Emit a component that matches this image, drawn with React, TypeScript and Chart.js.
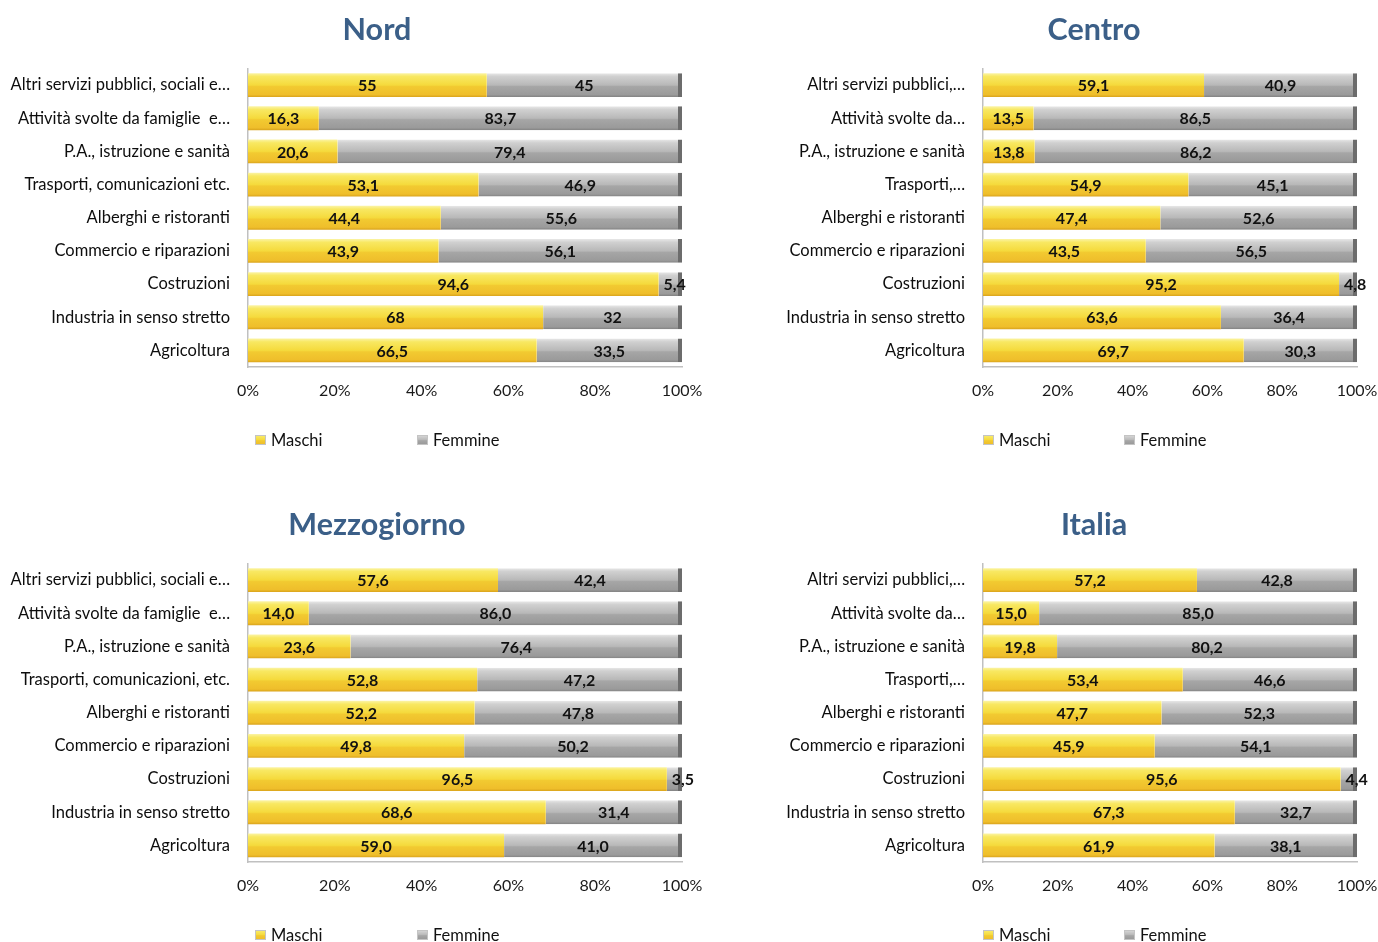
import React, { useEffect, useRef } from 'react';
import { Chart, registerables } from 'chart.js';

Chart.register(...registerables);

const FONT = 'Lato, "Noto Sans", sans-serif';

// ---------- data ----------
const seriesNames = ['Maschi', 'Femmine'];
const xTickLabels = ['0%', '20%', '40%', '60%', '80%', '100%'];

const titleNord = 'Nord';
const labelsNord = [
  'Altri servizi pubblici, sociali e…',
  'Attività svolte da famiglie  e…',
  'P.A., istruzione e sanità',
  'Trasporti, comunicazioni etc.',
  'Alberghi e ristoranti',
  'Commercio e riparazioni',
  'Costruzioni',
  'Industria in senso stretto',
  'Agricoltura',
];
const maschiNord = [55, 16.3, 20.6, 53.1, 44.4, 43.9, 94.6, 68, 66.5];
const femmineNord = [45, 83.7, 79.4, 46.9, 55.6, 56.1, 5.4, 32, 33.5];

const titleCentro = 'Centro';
const labelsCentro = [
  'Altri servizi pubblici,…',
  'Attività svolte da…',
  'P.A., istruzione e sanità',
  'Trasporti,…',
  'Alberghi e ristoranti',
  'Commercio e riparazioni',
  'Costruzioni',
  'Industria in senso stretto',
  'Agricoltura',
];
const maschiCentro = [59.1, 13.5, 13.8, 54.9, 47.4, 43.5, 95.2, 63.6, 69.7];
const femmineCentro = [40.9, 86.5, 86.2, 45.1, 52.6, 56.5, 4.8, 36.4, 30.3];

const titleMezzogiorno = 'Mezzogiorno';
const labelsMezzogiorno = [
  'Altri servizi pubblici, sociali e…',
  'Attività svolte da famiglie  e…',
  'P.A., istruzione e sanità',
  'Trasporti, comunicazioni, etc.',
  'Alberghi e ristoranti',
  'Commercio e riparazioni',
  'Costruzioni',
  'Industria in senso stretto',
  'Agricoltura',
];
const maschiMezzogiorno = [57.6, 14.0, 23.6, 52.8, 52.2, 49.8, 96.5, 68.6, 59.0];
const femmineMezzogiorno = [42.4, 86.0, 76.4, 47.2, 47.8, 50.2, 3.5, 31.4, 41.0];

const titleItalia = 'Italia';
const labelsItalia = [
  'Altri servizi pubblici,…',
  'Attività svolte da…',
  'P.A., istruzione e sanità',
  'Trasporti,…',
  'Alberghi e ristoranti',
  'Commercio e riparazioni',
  'Costruzioni',
  'Industria in senso stretto',
  'Agricoltura',
];
const maschiItalia = [57.2, 15.0, 19.8, 53.4, 47.7, 45.9, 95.6, 67.3, 61.9];
const femmineItalia = [42.8, 85.0, 80.2, 46.6, 52.3, 54.1, 4.4, 32.7, 38.1];

// ---------- styling ----------
const BAR_PCT = 0.72;
const yellowStops: [number, string][] = [
  [0, '#fbf4a6'],
  [0.14, '#f8e862'],
  [0.5, '#f5da3c'],
  [0.56, '#f2ca31'],
  [0.9, '#efbe2b'],
  [1, '#d9a31c'],
];
const grayStops: [number, string][] = [
  [0, '#e8e8e8'],
  [0.14, '#d0d0d0'],
  [0.5, '#b8b8b8'],
  [0.56, '#a6a6a6'],
  [0.9, '#9a9a9a'],
  [1, '#828282'],
];
const seriesStops = [yellowStops, grayStops];
const seriesFallback = ['#f3cf34', '#b0b0b0'];

function makeGradient(ctx: CanvasRenderingContext2D, y0: number, y1: number, stops: [number, string][]) {
  const g = ctx.createLinearGradient(0, y0, 0, y1);
  stops.forEach(([o, c]) => g.addColorStop(o, c));
  return g;
}

function fmt(v: number, fixed: boolean) {
  return (fixed ? v.toFixed(1) : String(v)).replace('.', ',');
}

const titlePlugin = {
  id: 'panelTitle',
  afterDraw(chart: any, _args: any, opts: any) {
    const ctx = chart.ctx as CanvasRenderingContext2D;
    ctx.save();
    ctx.font = `bold 30.5px ${FONT}`;
    ctx.fillStyle = '#3b5f88';
    ctx.textAlign = 'center';
    ctx.textBaseline = 'middle';
    ctx.fillText(opts.text, opts.x, opts.y);
    ctx.restore();
  },
};

const valueLabelPlugin = {
  id: 'valueLabels',
  afterDatasetsDraw(chart: any, _args: any, opts: any) {
    const ctx = chart.ctx as CanvasRenderingContext2D;
    ctx.save();
    ctx.font = `bold 16px ${FONT}`;
    ctx.fillStyle = '#111111';
    ctx.textAlign = 'center';
    ctx.textBaseline = 'middle';
    chart.data.datasets.forEach((ds: any, di: number) => {
      const meta = chart.getDatasetMeta(di);
      meta.data.forEach((el: any, i: number) => {
        const txt = fmt(ds.data[i], !!opts.fixed);
        const w = ctx.measureText(txt).width;
        const seg = Math.abs(el.x - el.base);
        let x = (el.x + el.base) / 2;
        if (w > seg - 4) x = Math.min(el.x, el.base) + 5 + w / 2;
        ctx.fillText(txt, x, el.y + 1);
      });
    });
    ctx.restore();
  },
};

const legendPlugin = {
  id: 'boxLegend',
  afterDraw(chart: any, _args: any, opts: any) {
    const ctx = chart.ctx as CanvasRenderingContext2D;
    ctx.save();
    ctx.font = `16.5px ${FONT}`;
    ctx.textAlign = 'left';
    ctx.textBaseline = 'middle';
    chart.data.datasets.forEach((ds: any, i: number) => {
      const bx = opts.x[i];
      const cy = opts.y;
      ctx.fillStyle = makeGradient(ctx, cy - 5, cy + 5, seriesStops[i]);
      ctx.fillRect(bx, cy - 5, 11, 10);
      ctx.strokeStyle = '#c4c4c4';
      ctx.lineWidth = 1;
      ctx.strokeRect(bx + 0.5, cy - 4.5, 10, 9);
      ctx.fillStyle = '#111111';
      ctx.fillText(ds.label, bx + 16, cy + 1);
    });
    ctx.restore();
  },
};

type PanelProps = {
  title: string;
  titleX: number;
  labels: string[];
  maschi: number[];
  femmine: number[];
  fixed: boolean;
  left: number;
  top: number;
  width: number;
  padR: number;
  yWidth: number;
  legendX: number[];
};

const HEIGHT = 447;

function Panel(p: PanelProps) {
  const ref = useRef<HTMLCanvasElement>(null);
  useEffect(() => {
    if (!ref.current) return;
    const bg = (si: number) => (c: any) => {
      const chart = c.chart;
      const ys = chart.scales?.y;
      if (!ys || !chart.chartArea) return seriesFallback[si];
      const yc = ys.getPixelForValue(c.dataIndex);
      const step = Math.abs(ys.getPixelForValue(1) - ys.getPixelForValue(0));
      const h = step * BAR_PCT;
      return makeGradient(chart.ctx, yc - h / 2, yc + h / 2, seriesStops[si]);
    };
    const chart = new Chart(ref.current, {
      type: 'bar',
      data: {
        labels: p.labels,
        datasets: [
          {
            label: seriesNames[0],
            data: p.maschi,
            backgroundColor: bg(0),
            borderWidth: 0,
            barPercentage: BAR_PCT,
            categoryPercentage: 1,
          },
          {
            label: seriesNames[1],
            data: p.femmine,
            backgroundColor: bg(1),
            borderColor: '#6c6c6c',
            borderWidth: { top: 0, bottom: 0, left: 0, right: 4 },
            borderSkipped: false,
            barPercentage: BAR_PCT,
            categoryPercentage: 1,
          },
        ],
      },
      options: {
        indexAxis: 'y',
        responsive: false,
        animation: false,
        layout: { padding: { left: 0, right: p.padR, top: 68.5, bottom: 40 } },
        scales: {
          x: {
            stacked: true,
            min: 0,
            max: 100,
            grid: { display: false, drawTicks: false },
            border: { display: true, color: '#c0c0c0', width: 1.5 },
            ticks: {
              stepSize: 20,
              padding: 14.5,
              color: '#1a1a1a',
              font: { family: FONT, size: 16, lineHeight: 1.2 },
              callback: (_v: any, i: number) => xTickLabels[i],
            },
            afterFit: (s: any) => {
              s.height = 40;
            },
          },
          y: {
            stacked: true,
            grid: { display: false, drawTicks: false },
            border: { display: true, color: '#c0c0c0', width: 1.5 },
            ticks: {
              padding: 18,
              color: '#0d0d0d',
              font: { family: FONT, size: 16.5, lineHeight: 1.2 },
              autoSkip: false,
            },
            afterFit: (s: any) => {
              s.width = p.yWidth;
            },
          },
        },
        plugins: {
          legend: { display: false },
          tooltip: { enabled: false },
          title: { display: false },
          panelTitle: { text: p.title, x: p.titleX, y: 30 },
          valueLabels: { fixed: p.fixed },
          boxLegend: { x: p.legendX, y: 440 },
        } as any,
      },
      plugins: [valueLabelPlugin, legendPlugin, titlePlugin],
    } as any);
    return () => chart.destroy();
  }, []);
  return (
    <canvas
      ref={ref}
      width={p.width}
      height={HEIGHT}
      style={{ position: 'absolute', left: p.left, top: p.top, width: p.width, height: HEIGHT }}
    />
  );
}

export default function App() {
  // left panels: plot area x 248..682 ; right panels: plot area x 983..1357
  const leftGeom = { left: 0, width: 740, padR: 58, yWidth: 248, titleX: 377 };
  const rightGeom = { left: 720, width: 700, padR: 63, yWidth: 263, titleX: 374 };
  return (
    <div
      style={{
        position: 'absolute',
        left: 0,
        top: 0,
        width: 1378,
        height: 942,
        background: '#ffffff',
        overflow: 'hidden',
      }}
    >
      <Panel
        title={titleNord}
        labels={labelsNord}
        maschi={maschiNord}
        femmine={femmineNord}
        fixed={false}
        top={0}
        legendX={[255, 417]}
        {...leftGeom}
      />
      <Panel
        title={titleCentro}
        labels={labelsCentro}
        maschi={maschiCentro}
        femmine={femmineCentro}
        fixed={true}
        top={0}
        legendX={[263, 404]}
        {...rightGeom}
      />
      <Panel
        title={titleMezzogiorno}
        labels={labelsMezzogiorno}
        maschi={maschiMezzogiorno}
        femmine={femmineMezzogiorno}
        fixed={true}
        top={495}
        legendX={[255, 417]}
        {...leftGeom}
      />
      <Panel
        title={titleItalia}
        labels={labelsItalia}
        maschi={maschiItalia}
        femmine={femmineItalia}
        fixed={true}
        top={495}
        legendX={[263, 404]}
        {...rightGeom}
      />
    </div>
  );
}
